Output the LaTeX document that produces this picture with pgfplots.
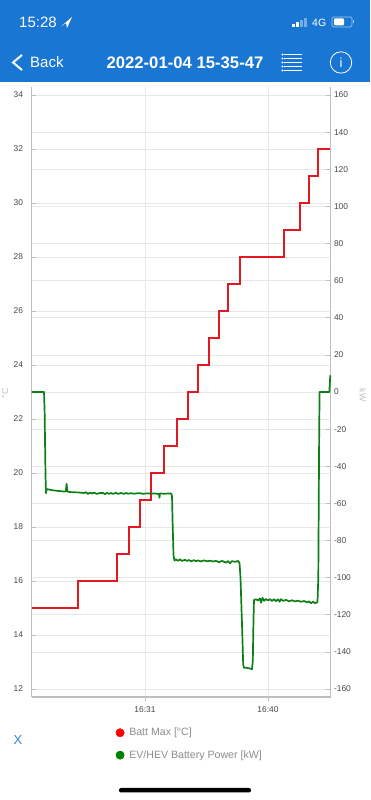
\documentclass[border=0pt]{standalone}
\usepackage{pgfplots}
\usepackage{fontspec}
\setmainfont{Liberation Sans}
\pgfplotsset{compat=1.18}
\definecolor{hdr}{RGB}{25,118,210}
\definecolor{spine}{RGB}{190,190,190}
\definecolor{gridc}{RGB}{232,232,232}
\definecolor{lab}{RGB}{70,70,70}
\definecolor{leg}{RGB}{140,140,140}
\definecolor{pwr}{RGB}{12,128,22}
\definecolor{tmp}{RGB}{228,24,32}
\definecolor{xb}{RGB}{50,130,215}
\begin{document}
\begin{tikzpicture}
\begin{scope}[x=1pt,y=1pt]
\useasboundingbox (0,0) rectangle (370,800);
\fill[hdr] (0,718) rectangle (370,800);
% status bar
\node[white,anchor=west,inner sep=0,font=\fontsize{15}{15}\selectfont] at (19,777.5) {15:28};
\fill[white] (61,773.5) -- (72,783) -- (67,772) -- (66,777) -- cycle;
\fill[white] (292,773) rectangle (294.5,775.5);
\fill[white] (296,773) rectangle (298.5,777.5);
\fill[white,opacity=.4] (300,773) rectangle (302.5,780);
\fill[white,opacity=.4] (304,773) rectangle (306.5,782);
\node[white,anchor=west,inner sep=0,font=\fontsize{10.5}{10.5}\selectfont] at (312,777.5) {4G};
\draw[white,opacity=.6,rounded corners=1.5,line width=.7] (332,773) rectangle (352,783);
\fill[white,rounded corners=1] (334,774.5) rectangle (344,781.5);
\fill[white,opacity=.6] (353,776.5) rectangle (354,779.5);
% nav bar
\draw[white,line width=2] (22,745) -- (13,737.5) -- (22,730);
\node[white,anchor=west,inner sep=0,font=\fontsize{15}{15}\selectfont] at (30,737.5) {Back};
\node[white,font=\fontsize{16.7}{16.7}\selectfont\bfseries] at (185,737.5) {2022-01-04 15-35-47};
\foreach \yy in {729.5,733.5,737.5,741.5,745.5}{
  \draw[white,line width=.8] (284,\yy) -- (302,\yy);
  \fill[white] (282.5,\yy) circle (1.2);
}
\draw[white,line width=.8] (341,737.5) circle (10.7);
\node[white,font=\fontsize{13}{13}\selectfont] at (341,737.5) {i};
\node[font=\fontsize{13}{13}\selectfont,text=xb] at (18,60) {X};
\fill[black,rounded corners=2] (119,7.5) rectangle (251,12);
\end{scope}
% axes
\begin{axis}[at={(31.5pt,103pt)},anchor=south west,scale only axis,width=299pt,height=610pt,
  set layers,
  xmin=31.5,xmax=330.5,ymin=11.704,ymax=34.296,
  axis y line*=left,axis x line*=bottom,
  axis line style={spine,line width=1.3,-},
  xtick={145,268},xticklabels={16:31,16:40},
  ytick={12,14,...,34},
  grid=major,major grid style={gridc,line width=.7},
  tick style={spine,line width=.7},
  ytick align=inside,xtick align=outside,major tick length=4.5,
  tick label style={font=\fontsize{8.4}{8.4}\selectfont,text=lab},
  /pgf/number format/assume math mode=true,
  ylabel={°C},
  every axis y label/.style={at={(axis description cs:-0.0886,0.498)},rotate=90,anchor=center,inner sep=0,font=\fontsize{9}{9}\selectfont,text=spine},
  xticklabel style={yshift=-2},
  yticklabel style={xshift=-5},
  legend cell align=left,
  legend style={at={(0.2815,-0.0475)},anchor=north west,draw=none,fill=none,
    font=\fontsize{10.6}{10.6}\selectfont,text=leg,row sep=9.2,inner sep=0,
    /tikz/every even column/.style={column sep=0},
    /tikz/every odd column/.style={column sep=3}},
  clip=false]
\addlegendimage{only marks,mark=*,mark size=4.2,color=red}
\addlegendentry{Batt Max [°C]}
\addlegendimage{only marks,mark=*,mark size=4.2,color=green!50!black}
\addlegendentry{EV/HEV Battery Power [kW]}
\addplot[tmp,line width=2,forget plot] coordinates {
(31.5,15)(78,15)(78,16)(117,16)(117,17)(129,17)(129,18)(139.5,18)(139.5,19)(151,19)(151,20)(164,20)(164,21)(176.5,21)(176.5,22)(187.5,22)(187.5,23)(198,23)(198,24)(208.5,24)(208.5,25)(218.5,25)(218.5,26)(228,26)(228,27)(240,27)(240,28)(283.5,28)(283.5,29)(300,29)(300,30)(309,30)(309,31)(318,31)(318,32)(330,32)};
\end{axis}
\begin{axis}[at={(31.5pt,103pt)},anchor=south west,scale only axis,width=299pt,height=610pt,
  set layers,
  xmin=31.5,xmax=330.5,ymin=-164.31,ymax=164.31,
  axis y line*=right,axis x line=none,
  axis line style={spine,line width=1.3,-},
  ytick={-160,-140,...,160},
  ymajorgrids,major grid style={gridc,line width=.7},
  tick style={spine,line width=.7},
  ytick align=inside,major tick length=4.5,
  tick label style={font=\fontsize{8.4}{8.4}\selectfont,text=lab},
  /pgf/number format/assume math mode=true,
  ylabel={kW},
  every axis y label/.style={at={(axis description cs:1.1087,0.495)},rotate=-90,anchor=center,inner sep=0,font=\fontsize{9}{9}\selectfont,text=spine},
  clip=false]
\addplot[pwr,line width=1.7,line join=round] coordinates {
(31.5,0)(44,0)(44.6,-10)(45.5,-45)(46,-54.5)(46.5,-53)(47,-52.3)(52,-52.9)(58,-53.3)(64,-53.6)(65.8,-53.5)(66.6,-49.5)(67.4,-53.7)(72,-54)(78,-54.1)(84,-54.4)(86,-54)(88,-54.9)(90,-54.2)(92,-54.7)(94,-54.2)(97,-54.9)(100,-54.4)(103,-54.4)(105,-55)(107,-54.3)(109,-54.9)(111,-54.4)(113,-54.9)(116,-54.3)(118,-54.9)(121,-54.4)(124,-54.9)(126,-54.4)(128,-54.8)(131,-54.5)(134,-54.8)(137,-54.6)(140,-54.5)(143,-54.9)(146,-54.6)(150,-54.7)(155,-54.7)(159,-55)(159.5,-57)(160,-54.7)(165,-54.8)(171,-54.6)(172,-56)(172.6,-70)(173.5,-88)(174.5,-90.8)(176,-90.2)(178,-90.9)(180,-90.2)(182,-91)(185,-90.4)(187,-91)(189,-90.5)(191,-91.2)(194,-90.6)(196,-91.2)(198,-90.7)(201,-91.3)(204,-90.7)(207,-91.2)(210,-90.9)(213,-91.3)(216,-91)(219,-91.7)(222,-91)(226,-91.9)(228,-91.1)(230,-92.3)(232,-91.1)(235,-91.5)(238,-91)(239.5,-92)(240.5,-100)(242,-125)(243.2,-147)(244,-148.5)(247,-148.6)(250,-149)(252,-149.3)(252.8,-145)(253.5,-122)(254,-112)(256,-111.7)(258,-112.3)(260,-111.2)(261,-113.5)(262.5,-110.9)(264,-112.5)(266,-111.5)(268,-112.3)(270,-111.6)(272,-112.6)(274,-111.6)(276,-112.7)(278,-111.7)(279.5,-113)(281,-111.6)(283,-112.5)(286,-112)(289,-112.8)(292,-112.2)(295,-112.8)(298,-112.4)(301,-113)(304,-112.6)(307,-113.3)(309,-112.8)(311,-113.8)(313,-112.9)(315,-113.8)(317.5,-113.2)(318.3,-100)(319.2,-20)(319.6,0)(325,0)(329.3,0)(330.3,9)};
\end{axis}
\end{tikzpicture}
\end{document}
